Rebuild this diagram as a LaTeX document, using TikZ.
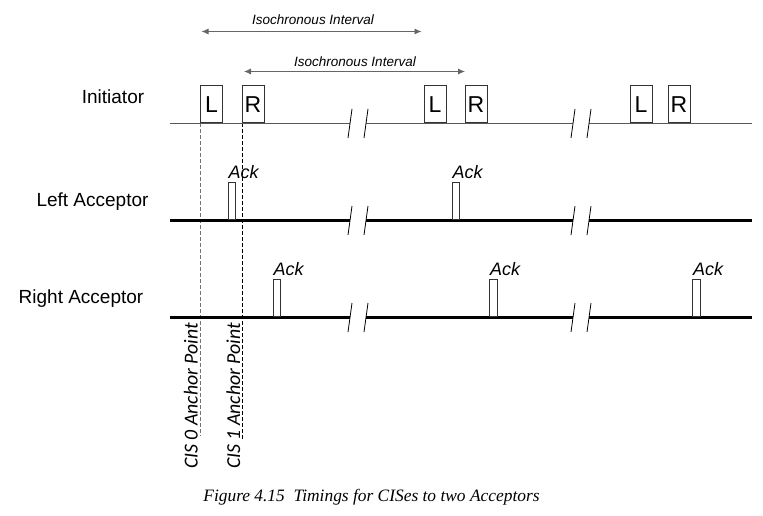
\documentclass[tikz,border=0pt]{standalone}
\usepackage{fontspec}
\setmainfont{Liberation Sans}
\newfontfamily\capfont{Liberation Serif}
\newfontfamily\cisfont{Carlito}
\usetikzlibrary{arrows.meta,calc}
\begin{document}
\begin{tikzpicture}[x=1pt,y=-1pt,
  pkt/.style={draw=black!80, line width=0.8pt, fill=white, minimum width=22pt, minimum height=37pt, inner sep=0pt, anchor=south west, font=\fontsize{23}{23}\selectfont},
  ackbox/.style={draw=black!80, line width=0.8pt, fill=white, minimum width=7.5pt, minimum height=37pt, inner sep=0pt, anchor=south west},
  acklbl/.style={font=\itshape\fontsize{18}{18}\selectfont, anchor=base west, inner sep=0pt},
  rowlbl/.style={font=\fontsize{19}{19}\selectfont, inner sep=0pt},
  tline/.style={line width=0.8pt, draw=black!65},
  aline/.style={line width=3pt, draw=black},
  slashln/.style={line width=0.8pt, draw=black},
  ivl/.style={line width=0.8pt, draw=black!60, {Latex[length=7pt,width=6pt]}-{Latex[length=7pt,width=6pt]}},
  ivlbl/.style={font=\itshape\fontsize{13.5}{13.5}\selectfont, inner sep=0pt},
  cislbl/.style={font=\cisfont\itshape\fontsize{19.8}{19.8}\selectfont, rotate=90, anchor=base, inner sep=0pt},
  anchorln/.style={line width=0.7pt, dash pattern=on 4pt off 2pt}
]
\useasboundingbox (0,0) rectangle (763,515);

% row labels
\node[rowlbl] (lini) at (113,97) {Initiator};
\node[rowlbl] (llft) at (92.5,202) {Left Acceptor};
\node[rowlbl] (lrgt) at (81,298.5) {Right Acceptor};

% timeline break coordinates
\foreach \row/\yy in {i/123, l/220, r/317} {
  \coordinate (\row0) at (170,\yy);
  \coordinate (\row1) at (350,\yy);
  \coordinate (\row2) at (366,\yy);
  \coordinate (\row3) at (573,\yy);
  \coordinate (\row4) at (589,\yy);
  \coordinate (\row5) at (752,\yy);
}

% dashed anchor lines
\coordinate (c0t) at (200.5,123);
\coordinate (c0b) at (200.5,436);
\coordinate (c1t) at (242,123);
\coordinate (c1b) at (242,440);
\draw[anchorln, draw=black!55] (c0t) -- (c0b);
\draw[anchorln, draw=black] (c1t) -- (c1b);

% initiator line
\draw[tline] (i0) -- (i1);
\draw[tline] (i2) -- (i3);
\draw[tline] (i4) -- (i5);
% acceptor lines
\draw[aline] (l0) -- (l1);
\draw[aline] (l2) -- (l3);
\draw[aline] (l4) -- (l5);
\draw[aline] (r0) -- (r1);
\draw[aline] (r2) -- (r3);
\draw[aline] (r4) -- (r5);

% break slashes
\foreach \row in {i,l,r} {
  \foreach \k in {1,2,3,4} {
    \draw[slashln] ($(\row\k)+(2,-14)$) -- ($(\row\k)+(-2,15)$);
  }
}

% initiator packets
\node[pkt] (L1) at (200,123) {L};
\node[pkt] (R1) at (241.5,123) {R};
\node[pkt] (L2) at (423.5,123) {L};
\node[pkt] (R2) at (464.5,123) {R};
\node[pkt] (L3) at (629.5,123) {L};
\node[pkt] (R3) at (667.5,123) {R};

% acks
\node[ackbox] (la1) at (227.5,220) {};
\node[ackbox] (la2) at (451.5,220) {};
\node[ackbox] (ra1) at (272.5,317) {};
\node[ackbox] (ra2) at (489,317) {};
\node[ackbox] (ra3) at (692,317) {};
\foreach \b in {la1,la2,ra1,ra2,ra3} {
  \node[acklbl] (t\b) at ($(\b.north west)+(1,-3.5)$) {Ack};
}

% isochronous intervals
\coordinate (a1s) at (201.5,31.5);
\coordinate (a1e) at (421.5,31.5);
\coordinate (a2s) at (244,71.5);
\coordinate (a2e) at (465,71.5);
\draw[ivl] (a1s) -- (a1e);
\draw[ivl] (a2s) -- (a2e);
\node[ivlbl] (iv1) at (313,20) {Isochronous Interval};
\node[ivlbl] (iv2) at (355,62) {Isochronous Interval};

% anchor point labels
\node[cislbl] (cis0) at (197.5,396) {CIS 0 Anchor Point};
\node[cislbl] (cis1) at (240,396) {CIS 1 Anchor Point};

% caption
\node[font=\capfont\itshape\fontsize{17.4}{17.4}\selectfont, inner sep=0pt] (cap) at (371.5,497) {Figure 4.15\ \ Timings for CISes to two Acceptors};
\end{tikzpicture}
\end{document}
